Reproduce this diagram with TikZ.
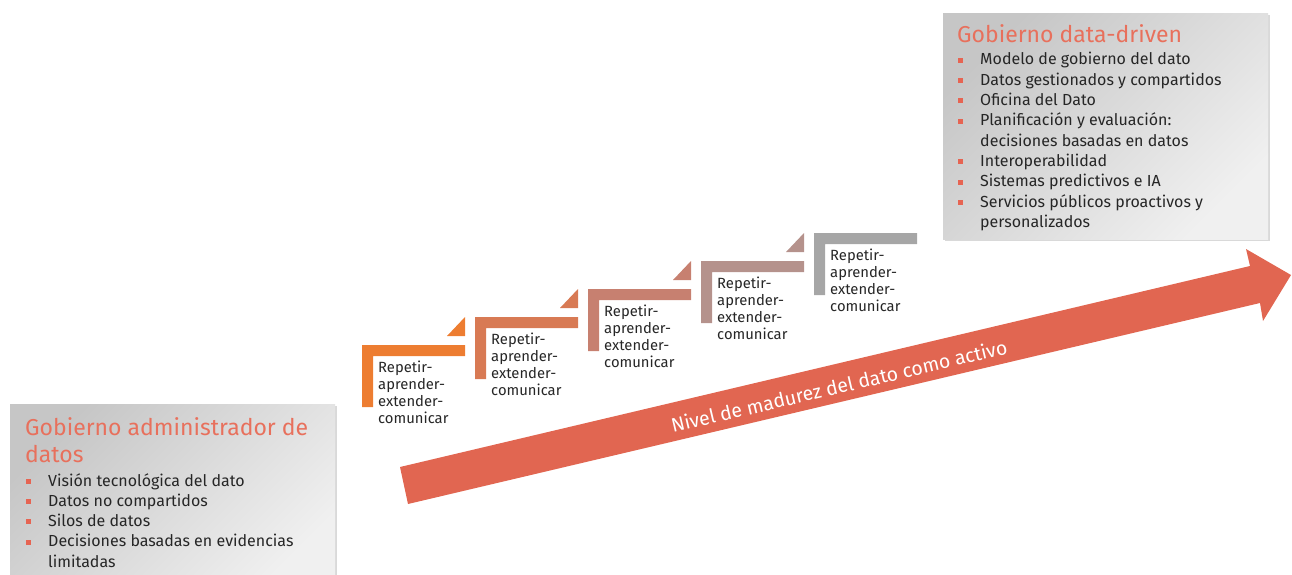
\documentclass[tikz,border=0pt]{standalone}
\usepackage{fontspec}
\setmainfont{Fira Sans}
\usepackage{xcolor}
\usepackage{tikz}
\usetikzlibrary{shadows}

\definecolor{arrowred}{RGB}{225,102,81}
\definecolor{titlered}{RGB}{232,112,92}
\definecolor{bulred}{RGB}{230,100,82}
\definecolor{ink}{RGB}{38,38,38}
\definecolor{boxdark}{RGB}{198,198,198}
\definecolor{boxlight}{RGB}{240,240,240}
\definecolor{stepA}{RGB}{237,125,49}
\definecolor{stepB}{RGB}{216,122,84}
\definecolor{stepC}{RGB}{199,128,112}
\definecolor{stepD}{RGB}{181,146,140}
\definecolor{stepE}{RGB}{166,166,166}

\newcommand{\sqbul}{\textcolor{bulred}{\rule[0.25ex]{0.32em}{0.32em}}}

\begin{document}
\begin{tikzpicture}[x=1pt, y=-1pt,
 panel/.style={rectangle, anchor=north west, inner sep=0pt, top color=boxdark, bottom color=boxlight, shading angle=45, drop shadow={shadow xshift=1.5pt, shadow yshift=-1.5pt, opacity=0.3}},
 head/.style={anchor=base west, inner sep=0pt, align=left, text=titlered, font=\fontsize{23}{27}\selectfont},
 list/.style={anchor=base west, inner sep=0pt, text=ink, font=\fontsize{16}{20.3}\selectfont},
 steptext/.style={anchor=base west, inner sep=0pt, align=left, text=ink, font=\fontsize{14.8}{16.7}\selectfont}]
 \useasboundingbox (0,0) rectangle (1292,575);

 \fill [arrowred] (400,467) -- (1250,266) -- (1246,249) -- (1291,275) -- (1263,321) -- (1260,303) -- (408,504) -- cycle;
 \node [rotate=13.3, text=white, font=\fontsize{19.5}{22}\selectfont] (lvl) at (839,386) {Nivel de madurez del dato como activo};

 \fill [stepA] (362,345) -- ++(103,0) -- ++(0,11) -- ++(-92,0) -- ++(0,51) -- ++(-11,0) -- cycle;
 \fill [stepA] (447,336) -- ++(18,0) -- ++(0,-19) -- cycle;
 \node [steptext] (s1) at (378,423) {Repetir-\\aprender-\\extender-\\comunicar};

 \fill [stepB] (475,317) -- ++(103,0) -- ++(0,11) -- ++(-92,0) -- ++(0,51) -- ++(-11,0) -- cycle;
 \fill [stepB] (560,308) -- ++(18,0) -- ++(0,-19) -- cycle;
 \node [steptext] (s2) at (491,395) {Repetir-\\aprender-\\extender-\\comunicar};

 \fill [stepC] (588,289) -- ++(103,0) -- ++(0,11) -- ++(-92,0) -- ++(0,51) -- ++(-11,0) -- cycle;
 \fill [stepC] (673,280) -- ++(18,0) -- ++(0,-19) -- cycle;
 \node [steptext] (s3) at (604,367) {Repetir-\\aprender-\\extender-\\comunicar};

 \fill [stepD] (701,261) -- ++(103,0) -- ++(0,11) -- ++(-92,0) -- ++(0,51) -- ++(-11,0) -- cycle;
 \fill [stepD] (786,252) -- ++(18,0) -- ++(0,-19) -- cycle;
 \node [steptext] (s4) at (717,339) {Repetir-\\aprender-\\extender-\\comunicar};

 \fill [stepE] (814,233) -- ++(103,0) -- ++(0,11) -- ++(-92,0) -- ++(0,51) -- ++(-11,0) -- cycle;
 \node [steptext] (s5) at (830,311) {Repetir-\\aprender-\\extender-\\comunicar};

 \node [panel, minimum width=325pt, minimum height=226pt] (ddbox) at (943,13) {};
 \node [head] (ddtitle) at (957,43) {Gobierno data-driven};
 \node [list] (dditems) at (958,65) {\begin{tabular}[t]{@{}p{22pt}@{}l@{}}
  \sqbul & Modelo de gobierno del dato\\
  \sqbul & Datos gestionados y compartidos\\
  \sqbul & Oficina del Dato\\
  \sqbul & Planificación y evaluación:\\
         & decisiones basadas en datos\\
  \sqbul & Interoperabilidad\\
  \sqbul & Sistemas predictivos e IA\\
  \sqbul & Servicios públicos proactivos y\\
         & personalizados
 \end{tabular}};

 \node [panel, minimum width=325pt, minimum height=185pt] (adbox) at (10,404) {};
 \node [head] (adtitle) at (25,462) {Gobierno administrador de\\datos};
 \node [list] (aditems) at (26,486) {\begin{tabular}[t]{@{}p{22pt}@{}l@{}}
  \sqbul & Visión tecnológica del dato\\
  \sqbul & Datos no compartidos\\
  \sqbul & Silos de datos\\
  \sqbul & Decisiones basadas en evidencias\\
         & limitadas
 \end{tabular}};
\end{tikzpicture}
\end{document}
